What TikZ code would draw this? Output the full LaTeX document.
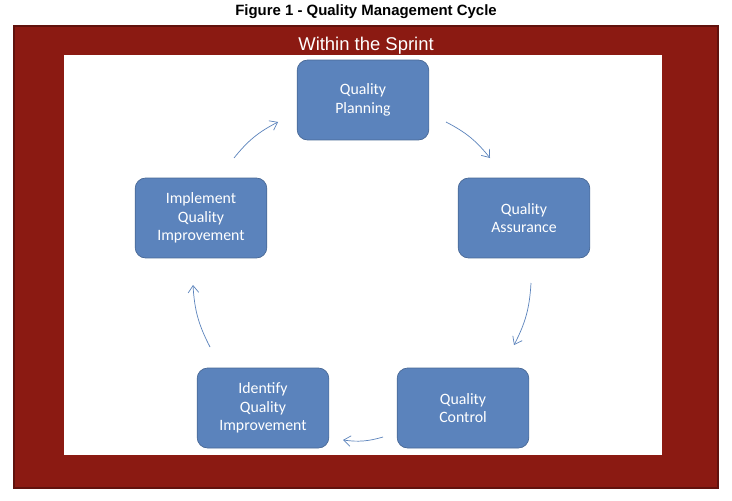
\documentclass[tikz,border=0pt]{standalone}
\usepackage{fontspec}
\setmainfont{Carlito}
\newfontfamily\arialfont{Liberation Sans}
\usetikzlibrary{arrows.meta}
\definecolor{sprintred}{HTML}{8B1A12}
\definecolor{boxblue}{HTML}{5B83BC}
\definecolor{linkblue}{HTML}{5B83BC}
\tikzset{
  qbox/.style={draw=boxblue!80!black, fill=boxblue, rounded corners=6pt, minimum width=2.54cm,
    minimum height=1.6cm, text width=2.4cm, align=center, text=white, font=\fontsize{9}{10.5}\selectfont},
  link/.style={draw=linkblue, thin, -{Straight Barb[length=4pt,width=6pt]}}
}
\begin{document}
\begin{tikzpicture}[x=0.02cm,y=-0.02cm]
  \useasboundingbox (0,0) rectangle (732,500);
  \fill [white] (0,0) rectangle (732,500);

  \node [font=\arialfont\bfseries\fontsize{8.5}{10}\selectfont] (title) at (366,12) {Figure 1 - Quality Management Cycle};

  \draw [line width=1.5pt, draw=sprintred!70!black, fill=sprintred] (14,26) rectangle (718,488);
  \fill [white] (64,55) rectangle (662,455);
  \node [text=white, font=\arialfont\fontsize{10.5}{12}\selectfont] (sprint) at (366,46) {Within the Sprint};

  \node [qbox] (plan) at (363,100) {Quality\\Planning};
  \node [qbox] (assure) at (524,218) {Quality\\Assurance};
  \node [qbox] (control) at (463,408) {Quality\\Control};
  \node [qbox] (identify) at (263,408) {Identify\\Quality\\Improvement};
  \node [qbox] (implement) at (201,218) {Implement\\Quality\\Improvement};

  % arrows round the cycle
  \coordinate (a1) at (446,122); \coordinate (b1) at (490,158);
  \coordinate (a2) at (531,283); \coordinate (b2) at (514,345);
  \coordinate (a3) at (383,437); \coordinate (b3) at (343,440);
  \coordinate (a4) at (210,347); \coordinate (b4) at (193,285);
  \coordinate (a5) at (234,158); \coordinate (b5) at (278,122);
  \foreach \i in {1,...,5}
    \draw [link] (a\i) to[bend left=12] (b\i);
\end{tikzpicture}
\end{document}
